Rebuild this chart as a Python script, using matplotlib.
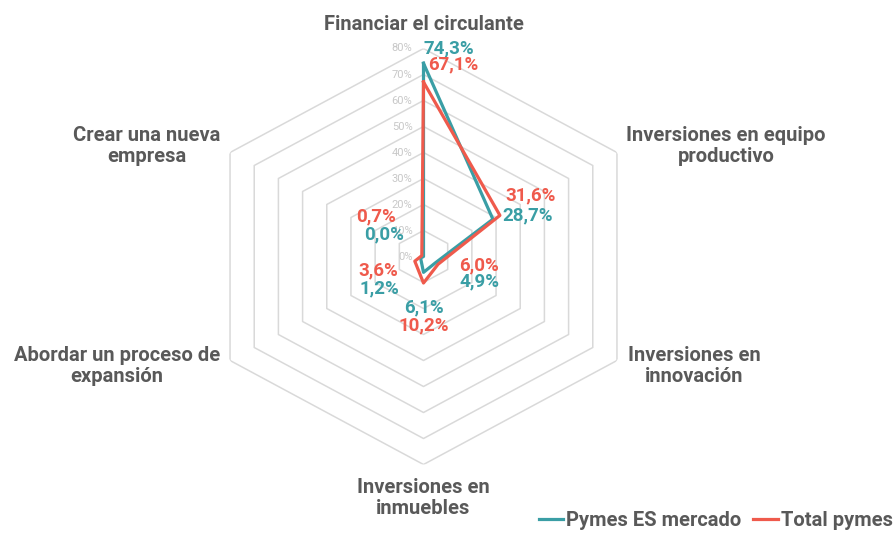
import numpy as np
import matplotlib
matplotlib.use('Agg')
import matplotlib.pyplot as plt

plt.rcParams['font.family'] = ['Roboto', 'DejaVu Sans']

# datos
categorias = ['Financiar el circulante', 'Inversiones en equipo\nproductivo',
              'Inversiones en\ninnovación', 'Inversiones en\ninmuebles',
              'Abordar un proceso de\nexpansión', 'Crear una nueva\nempresa']
pymes_es = [74.3, 28.7, 4.9, 6.1, 1.2, 0.0]
total_pymes = [67.1, 31.6, 6.0, 10.2, 3.6, 0.7]
niveles = [0, 10, 20, 30, 40, 50, 60, 70, 80]

COL_ES = '#3a9ea5'
COL_TOT = '#ef5a4c'
COL_TXT = '#595959'

W, H = 894, 536
cx, cy = 423.5, 256.5
RX, RY = 223.4, 208   # el gráfico está algo estirado en horizontal

fig = plt.figure(figsize=(W / 100, H / 100), dpi=100)
ax = fig.add_axes([(cx - RX) / W, (H - cy - RY) / H, 2 * RX / W, 2 * RY / H], projection='polar')
ax.set_aspect('auto')
ax.set_theta_zero_location('N')
ax.set_theta_direction(-1)
ax.set_ylim(0, niveles[-1])
ax.axis('off')

n = len(categorias)
ang = np.arange(n) * 2 * np.pi / n
ang_c = np.append(ang, ang[0])

# rejilla hexagonal
for nv in niveles[1:]:
    ax.plot(ang_c, [nv] * (n + 1), color='#d9d9d9', lw=1.1, zorder=1)
for nv in niveles:
    ax.annotate(f'{nv}%', (0, nv), xytext=(-11, 0), textcoords='offset pixels',
                ha='right', va='center', fontsize=8, color='#c8c8c8')

# series
ax.plot(ang_c, pymes_es + pymes_es[:1], color=COL_ES, lw=2.3, zorder=3, label='Pymes ES mercado')
ax.plot(ang_c, total_pymes + total_pymes[:1], color=COL_TOT, lw=2.3, zorder=4, label='Total pymes')

# etiquetas de datos (desplazamientos en píxeles)
off_es = [(25, 15), (35, 4), (44, -19), (0, -35), (-41, -30), (-39, 22)]
off_tot = [(30, 18), (31, 20), (41, -1), (0, -42), (-37, -9), (-46, 39)]
for vals, offs, col in [(pymes_es, off_es, COL_ES), (total_pymes, off_tot, COL_TOT)]:
    for a, v, o in zip(ang, vals, offs):
        ax.annotate(f'{v:.1f}%'.replace('.', ','), (a, v), xytext=o, textcoords='offset pixels',
                    ha='center', va='center', fontsize=13.5, fontweight='bold', color=col, zorder=5)

# etiquetas de categorías
pos_cat = [(423.5, 24), (726, 146), (694, 366), (423.5, 498), (117, 366), (147, 146)]
for txt, (px, py) in zip(categorias, pos_cat):
    fig.text(px / W, 1 - py / H, txt, ha='center', va='center', fontsize=14.5,
             fontweight='bold', color=COL_TXT, linespacing=1.15)

fig.legend(loc='lower right', bbox_to_anchor=(1.012, -0.012), ncol=2, frameon=False,
           handlelength=1.2, handletextpad=0.15, columnspacing=0.6, borderaxespad=0.2,
           prop={'size': 14.5, 'weight': 'bold'}, labelcolor=COL_TXT)

fig.savefig('out.png', dpi=100, facecolor='white')
